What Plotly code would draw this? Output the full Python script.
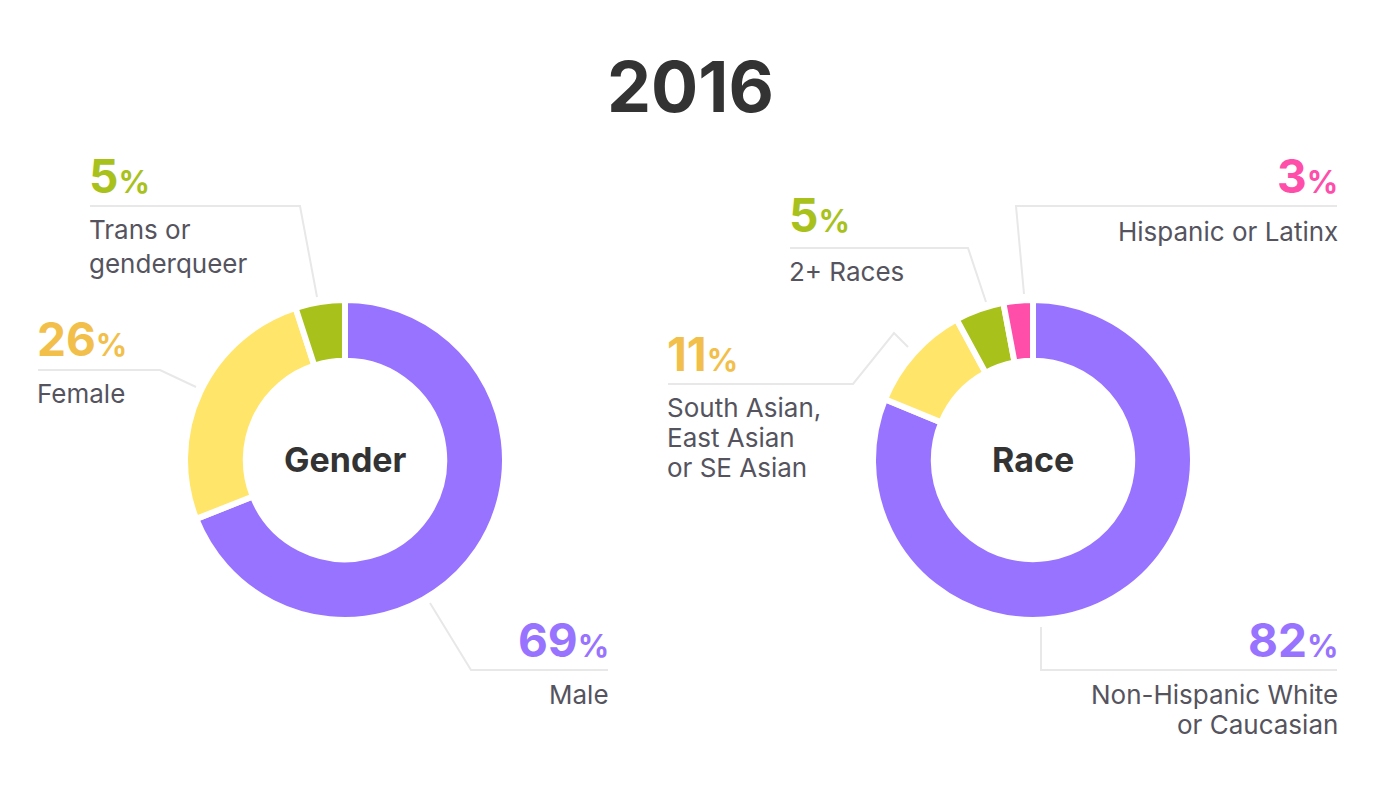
import plotly.graph_objects as go

W, H = 1380, 800

# data
gender_labels = ["Male", "Female", "Trans or<br>genderqueer"]
gender_values = [69, 26, 5]
race_labels = ["Non-Hispanic White<br>or Caucasian", "South Asian,<br>East Asian<br>or SE Asian",
               "2+ Races", "Hispanic or Latinx"]
race_values = [82, 11, 5, 3]
year = "2016"

# colours
purple = "#9873ff"
yellow = "#ffe66a"
gold = "#f2bf4b"
green = "#a9c11b"
pink = "#ff4daa"
grey_text = "#55545e"
line_col = "#e8e8e8"

gender_colors = [purple, yellow, green]
gender_text_colors = [purple, gold, green]
race_colors = [purple, yellow, green, pink]
race_text_colors = [purple, gold, green, pink]


def px(x):
    return x / W


def py(y):
    return 1 - y / H


def donut_domain(cx, cy, r):
    return dict(x=[px(cx - r), px(cx + r)], y=[py(cy + r), py(cy - r)])


fig = go.Figure()

fig.add_trace(go.Pie(values=gender_values, labels=gender_labels, marker=dict(colors=gender_colors, line=dict(color="white", width=6)),
                     hole=0.62, sort=False, direction="clockwise", textinfo="none", hoverinfo="skip",
                     domain=donut_domain(345, 460, 160), showlegend=False))
fig.add_trace(go.Pie(values=race_values, labels=race_labels, marker=dict(colors=race_colors, line=dict(color="white", width=6)),
                     hole=0.62, sort=False, direction="clockwise", textinfo="none", hoverinfo="skip",
                     domain=donut_domain(1033, 460, 160), showlegend=False))

# label placement (pixels): pct anchor, name anchor, side, leader line
gender_layout = [
    dict(pct=(608, 640), name=(608, 694), side="right", path=[(430, 603), (471, 670), (608, 670)]),
    dict(pct=(38, 339), name=(38, 393), side="left", path=[(38, 370), (160, 370), (196, 387)]),
    dict(pct=(90, 176), name=(90, 246), side="left", path=[(90, 206), (300, 206), (317, 297)]),
]
race_layout = [
    dict(pct=(1337, 640), name=(1337, 709), side="right", path=[(1041, 627), (1041, 670), (1337, 670)]),
    dict(pct=(668, 354), name=(668, 437), side="left", path=[(668, 384), (853, 384), (894, 333), (908, 347)]),
    dict(pct=(790, 215), name=(790, 271), side="left", path=[(790, 248), (968, 248), (986, 302)]),
    dict(pct=(1337, 176), name=(1337, 231), side="right", path=[(1337, 206), (1016, 206), (1024, 294)]),
]

FONT = "Inter, Roboto, sans-serif"
PAD = 3  # annotation boxes add a little padding around the text
annotations = []
shapes = []


def add_labels(labels, values, text_colors, lay, line_gap):
    for lab, val, col, L in zip(labels, values, text_colors, lay):
        anchor = "left" if L["side"] == "left" else "right"
        shift = -PAD if anchor == "left" else PAD
        annotations.append(dict(
            x=px(L["pct"][0] + shift), y=py(L["pct"][1]), xref="paper", yref="paper",
            xanchor=anchor, yanchor="middle", showarrow=False,
            text=f"<b>{val}</b><span style='font-size:31px'><b>%</b></span>",
            font=dict(family=FONT, size=46, color=col)))
        rows = lab.split("<br>")
        for i, row in enumerate(rows):
            yy = L["name"][1] + (i - (len(rows) - 1) / 2) * line_gap
            annotations.append(dict(
                x=px(L["name"][0] + shift), y=py(yy), xref="paper", yref="paper",
                xanchor=anchor, yanchor="middle", showarrow=False,
                text=row, font=dict(family=FONT, size=26, color=grey_text)))
        pts = L["path"]
        d = "M " + " L ".join(f"{px(x):.5f},{py(y):.5f}" for x, y in pts)
        shapes.append(dict(type="path", path=d, xref="paper", yref="paper",
                           line=dict(color=line_col, width=2)))


add_labels(gender_labels, gender_values, gender_text_colors, gender_layout, 34)
add_labels(race_labels, race_values, race_text_colors, race_layout, 30)

for name, cx in [("Gender", 345), ("Race", 1033)]:
    annotations.append(dict(x=px(cx), y=py(460), xref="paper", yref="paper", showarrow=False,
                            xanchor="center", yanchor="middle",
                            text=f"<b>{name}</b>", font=dict(family=FONT, size=34, color="#333333")))
annotations.append(dict(x=px(690), y=py(86), xref="paper", yref="paper", showarrow=False,
                        xanchor="center", yanchor="middle",
                        text=f"<b>{year}</b>", font=dict(family=FONT, size=70, color="#333333")))

fig.update_layout(width=W, height=H, margin=dict(l=0, r=0, t=0, b=0),
                  paper_bgcolor="white", plot_bgcolor="white",
                  annotations=annotations, shapes=shapes)

# drop the default page margin so the figure sits at the window origin
fig.write_html("out.html", config={"displayModeBar": False},
               post_script="document.body.style.margin='0';")
